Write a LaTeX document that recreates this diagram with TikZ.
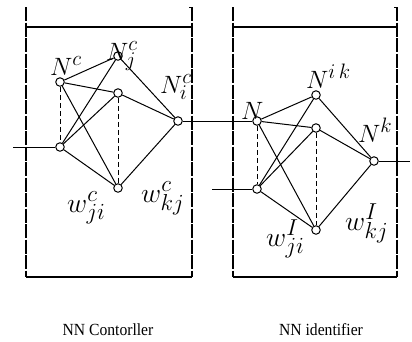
\documentclass[tikz,border=0pt]{standalone}
\usepackage{fontspec}
\setmainfont{Liberation Serif}
\begin{document}
\begin{tikzpicture}[x=1pt,y=-1pt,
  neuron/.style={circle,draw,fill=white,line width=1pt,inner sep=0pt,minimum size=8.5pt},
  link/.style={line width=1pt},
  dlink/.style={line width=1pt,dash pattern=on 5pt off 3pt},
  edgeline/.style={line width=1.1pt,dash pattern=on 14pt off 1.5pt},
  frame/.style={line width=1.4pt},
  lbl/.style={font=\fontsize{19}{19}\selectfont,inner sep=0pt,anchor=base west},
  captext/.style={font=\fontsize{17}{17}\selectfont,inner sep=0pt,anchor=base}]
\useasboundingbox (0,0) rectangle (412,341);
% frames
\draw[edgeline] (26,7) -- (26,277);
\draw[edgeline] (192,7) -- (192,277);
\draw[frame] (26,27) -- (192,27);
\draw[frame] (26,277) -- (192,277);
\draw[line width=1pt] (189,7) -- (192,7);
\draw[edgeline] (233,7) -- (233,277);
\draw[edgeline] (397,7) -- (397,277);
\draw[frame] (233,27) -- (397,27);
\draw[frame] (233,277) -- (397,277);
\draw[line width=1pt] (394,7) -- (397,7);
% left network nodes
\coordinate (inL) at (13,147);
\node[neuron] (L1) at (60,82) {};
\node[neuron] (L2) at (60,147) {};
\node[neuron] (H1) at (118,56) {};
\node[neuron] (H2) at (118,93) {};
\node[neuron] (H3) at (118,188) {};
\node[neuron] (O) at (178,121) {};
% right network nodes
\coordinate (inR) at (212,189);
\coordinate (outR) at (410,161);
\node[neuron] (R1) at (257,121) {};
\node[neuron] (R2) at (257,189) {};
\node[neuron] (G1) at (316,95) {};
\node[neuron] (G2) at (316,128) {};
\node[neuron] (G3) at (316,230) {};
\node[neuron] (P) at (374,161) {};
% left connections
\foreach \a in {L1,L2} \foreach \b in {H1,H2,H3} \draw[link] (\a) -- (\b);
\foreach \b in {H1,H2,H3} \draw[link] (\b) -- (O);
\draw[dlink] (L1) -- (L2);
\draw[dlink] (H2) -- (H3);
\draw[link] (inL) -- (L2);
\draw[link] (O) -- (R1);
% right connections
\foreach \a in {R1,R2} \foreach \b in {G1,G2,G3} \draw[link] (\a) -- (\b);
\foreach \b in {G1,G2,G3} \draw[link] (\b) -- (P);
\draw[dlink] (R1) -- (R2);
\draw[dlink] (G2) -- (G3);
\draw[link] (inR) -- (R2);
\draw[link] (P) -- (outR);
% labels
\node[lbl] (tL1) at (50,75) {\scalebox{1.45}{$N^{c}$}};
\node[lbl] (tH1) at (106,60) {\scalebox{1.45}{$N_{j}^{c}$}};
\node[lbl] (tO) at (160,93) {\scalebox{1.45}{$N_{i}^{c}$}};
\node[lbl] (tw1) at (67,212) {\scalebox{1.6}{$w_{ji}^{c}$}};
\node[lbl] (tw2) at (141,202) {\scalebox{1.6}{$w_{kj}^{c}$}};
\node[lbl] (tR1) at (241,119) {\scalebox{1.45}{$N$}};
\node[lbl] (tG1) at (306,88) {\scalebox{1.45}{$N^{i\,k}$}};
\node[lbl] (tP) at (358,142) {\scalebox{1.45}{$N^{k}$}};
\node[lbl] (tw3) at (266,246) {\scalebox{1.6}{$w_{ji}^{I}$}};
\node[lbl] (tw4) at (345,230) {\scalebox{1.6}{$w_{kj}^{I}$}};
% captions
\node[captext] (c1) at (108,335) {\scalebox{0.92}[1]{NN Contorller}};
\node[captext] (c2) at (321,335) {\scalebox{0.92}[1]{NN identifier}};
\end{tikzpicture}
\end{document}
